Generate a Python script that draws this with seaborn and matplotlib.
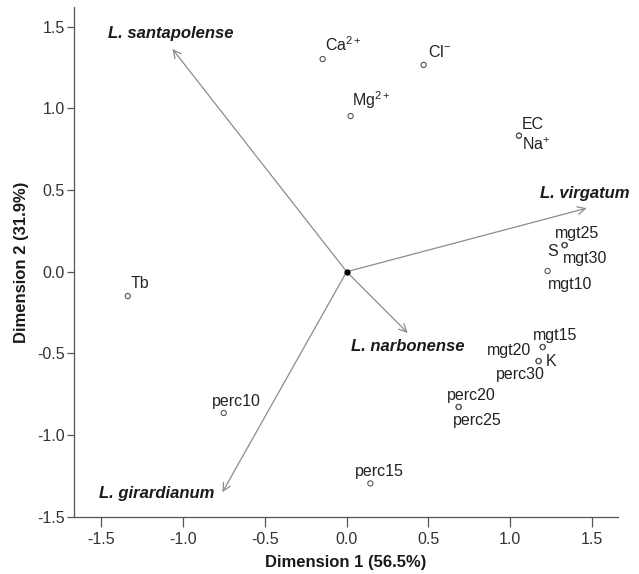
import matplotlib
matplotlib.use("Agg")
import matplotlib.pyplot as plt
import seaborn as sns
import pandas as pd

# data
pt_names = ["Ca$^{2+}$", "Cl$^{-}$", "Mg$^{2+}$", "EC", "Na$^{+}$",
            "mgt25", "S", "mgt30", "mgt10", "mgt15", "mgt20", "K", "perc30",
            "perc20", "perc25", "Tb", "perc10", "perc15"]
pt_x = [-0.147, 0.471, 0.024, 1.054, 1.054,
        1.333, 1.333, 1.333, 1.229, 1.199, 1.199, 1.174, 1.174,
        0.685, 0.685, -1.339, -0.752, 0.145]
pt_y = [1.302, 1.266, 0.953, 0.833, 0.833,
        0.163, 0.163, 0.163, 0.004, -0.461, -0.461, -0.547, -0.547,
        -0.828, -0.828, -0.149, -0.865, -1.296]

species = ["L. santapolense", "L. virgatum", "L. narbonense", "L. girardianum"]
vec_x = [-1.066, 1.468, 0.373, -0.760]
vec_y = [1.364, 0.389, -0.375, -1.350]

# label placement (pixels: dx, dy, ha, va)
lab_pos = {
    "Ca$^{2+}$": (2, 5, "left", "bottom"),
    "Cl$^{-}$": (4, 5, "left", "bottom"),
    "Mg$^{2+}$": (1, 5, "left", "bottom"),
    "EC": (3, 4, "left", "bottom"),
    "Na$^{+}$": (3, -1, "left", "top"),
    "mgt25": (-10, 4, "left", "bottom"),
    "S": (-7, -6, "right", "center"),
    "mgt30": (-2, -6, "left", "top"),
    "mgt10": (0, -6, "left", "top"),
    "mgt15": (-10, 4, "left", "bottom"),
    "mgt20": (-12, -3, "right", "center"),
    "K": (7, 0, "left", "center"),
    "perc30": (6, -6, "right", "top"),
    "perc20": (-12, 4, "left", "bottom"),
    "perc25": (-6, -6, "left", "top"),
    "Tb": (3, 5, "left", "bottom"),
    "perc10": (-12, 4, "left", "bottom"),
    "perc15": (-15, 4, "left", "bottom"),
}
sp_pos = {
    "L. santapolense": (-1.462, 1.46),
    "L. virgatum": (1.18, 0.48),
    "L. narbonense": (0.029, -0.455),
    "L. girardianum": (-1.517, -1.355),
}

sns.set_style("white")
plt.rcParams["font.family"] = ["Liberation Sans", "DejaVu Sans"]
plt.rcParams["mathtext.fontset"] = "custom"
plt.rcParams["mathtext.rm"] = "Liberation Sans"
plt.rcParams["mathtext.it"] = "Liberation Sans:italic"
plt.rcParams["mathtext.bf"] = "Liberation Sans:bold"

df = pd.DataFrame({"x": pt_x, "y": pt_y, "name": pt_names})

fig = plt.figure(figsize=(6.39, 5.74), dpi=100)
ax = fig.add_axes([0.1163, 0.0998, 0.8509, 0.8878])

# biplot vectors
for name, vx, vy in zip(species, vec_x, vec_y):
    ax.annotate("", xy=(vx, vy), xytext=(0, 0),
                arrowprops=dict(arrowstyle="->", color="#8c8c8c", lw=0.9,
                                mutation_scale=14, shrinkA=0, shrinkB=0))
    tx, ty = sp_pos[name]
    ax.text(tx, ty, name, fontsize=12, fontweight="bold", fontstyle="italic",
            color="#1a1a1a", ha="left", va="center")

ax.plot([0], [0], "o", color="black", markersize=3.5, zorder=5)

sns.scatterplot(data=df, x="x", y="y", ax=ax, marker="o", s=14,
                facecolor="none", edgecolor="#555555", linewidth=0.8, zorder=4)

for name, x, y in zip(pt_names, pt_x, pt_y):
    dx, dy, ha, va = lab_pos[name]
    ax.annotate(name, xy=(x, y), xytext=(dx, dy), textcoords="offset pixels",
                ha=ha, va=va, fontsize=11.5, color="#222222")

ax.set_xlim(-1.666, 1.66)
ax.set_ylim(-1.5, 1.62)
ax.set_xticks([-1.5, -1.0, -0.5, 0.0, 0.5, 1.0, 1.5])
ax.set_yticks([-1.5, -1.0, -0.5, 0.0, 0.5, 1.0, 1.5])
ax.xaxis.set_major_formatter(matplotlib.ticker.FormatStrFormatter("%.1f"))
ax.yaxis.set_major_formatter(matplotlib.ticker.FormatStrFormatter("%.1f"))

sns.despine(ax=ax)
for s in ["left", "bottom"]:
    ax.spines[s].set_color("#555555")
    ax.spines[s].set_linewidth(0.9)
ax.tick_params(axis="x", direction="out", length=7, width=0.9, color="#555555",
               labelsize=11.5, labelcolor="#333333", pad=4, bottom=True)
ax.tick_params(axis="y", direction="out", length=5, width=0.9, color="#555555",
               labelsize=11.5, labelcolor="#333333", pad=2, left=True)

ax.set_xlabel("Dimension 1 (56.5%)", fontsize=12, fontweight="bold", color="#1a1a1a", labelpad=6)
ax.set_ylabel("Dimension 2 (31.9%)", fontsize=12, fontweight="bold", color="#1a1a1a", labelpad=6)

fig.savefig("out.png", dpi=100)
